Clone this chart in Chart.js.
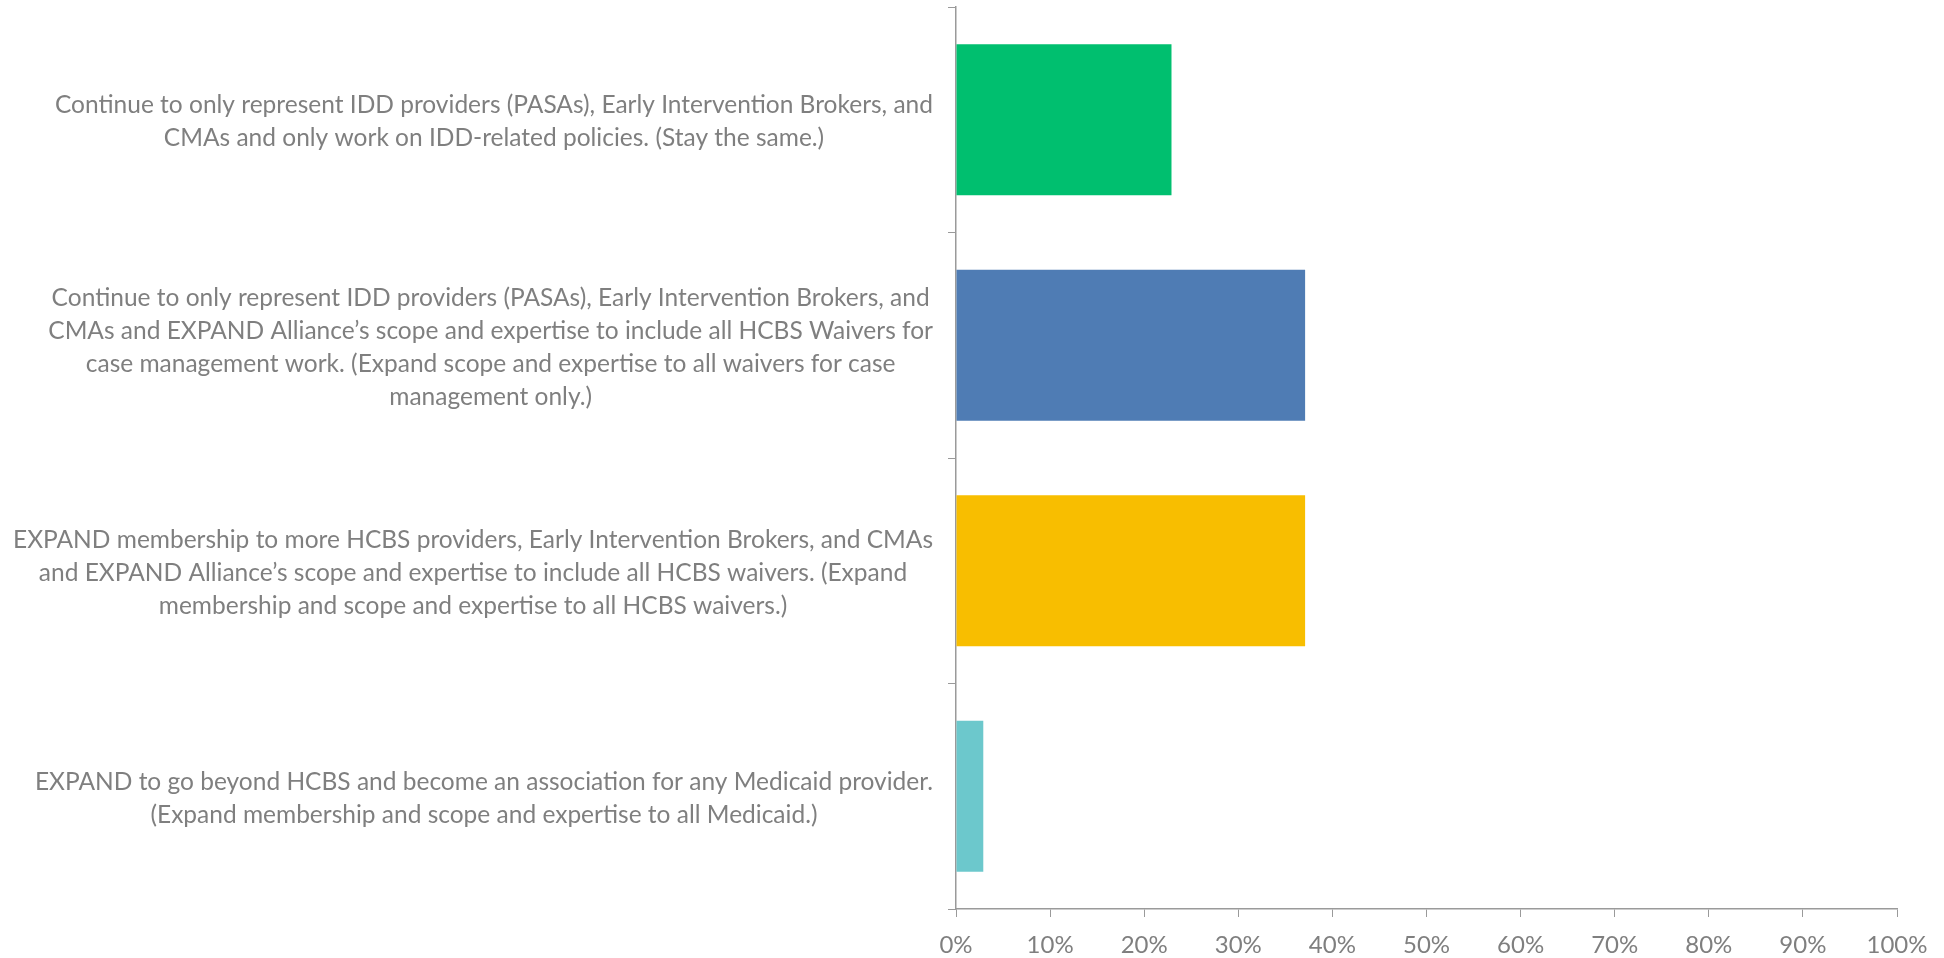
<!DOCTYPE html>
<html>
<head>
<meta charset="utf-8">
<script src="https://cdn.jsdelivr.net/npm/chart.js@4.4.1/dist/chart.umd.min.js"></script>
<style>
  html, body { margin: 0; padding: 0; background: #fff; }
  #wrap { width: 1944px; height: 958px; }
</style>
</head>
<body>
<div id="wrap"><canvas id="optionsChart" width="1944" height="958"></canvas></div>
<script>
// category labels, already broken into lines like the original
const categories = [
    ['Continue to only represent IDD providers (PASAs), Early Intervention Brokers, and',
     'CMAs and only work on IDD-related policies. (Stay the same.)'],
    ['Continue to only represent IDD providers (PASAs), Early Intervention Brokers, and',
     'CMAs and EXPAND Alliance\u2019s scope and expertise to include all HCBS Waivers for',
     'case management work. (Expand scope and expertise to all waivers for case',
     'management only.)'],
    ['EXPAND membership to more HCBS providers, Early Intervention Brokers, and CMAs',
     'and EXPAND Alliance\u2019s scope and expertise to include all HCBS waivers. (Expand',
     'membership and scope and expertise to all HCBS waivers.)'],
    ['EXPAND to go beyond HCBS and become an association for any Medicaid provider.',
     '(Expand membership and scope and expertise to all Medicaid.)']
];
const shares = [22.9, 37.1, 37.1, 2.9];
const barColors = ['#00BF6F', '#4F7CB4', '#F8BE00', '#6CC8CC'];
const xTicks = [0, 10, 20, 30, 40, 50, 60, 70, 80, 90, 100];

const textGray = '#7f7f7f';
const axisGray = '#9a9a9a';
const labelFont = '24.5px Lato';
const lineHeight = 33;

// y labels: each block centred on itself, blocks right-aligned next to the axis
const blockLabels = {
    id: 'blockLabels',
    afterDraw(chart) {
        const scale = chart.scales.y;
        const ctx = chart.ctx;
        const right = scale.right - 23;
        ctx.save();
        ctx.font = labelFont;
        ctx.fillStyle = textGray;
        ctx.textAlign = 'center';
        ctx.textBaseline = 'middle';
        categories.forEach((lines, i) => {
            const yc = scale.getPixelForTick(i) + 2;
            const w = Math.max(...lines.map(l => ctx.measureText(l).width));
            const cx = right - w / 2;
            const y0 = yc - (lines.length - 1) * lineHeight / 2;
            lines.forEach((l, j) => ctx.fillText(l, cx, y0 + j * lineHeight));
        });
        ctx.restore();
    }
};

new Chart(document.getElementById('optionsChart'), {
    type: 'bar',
    data: {
        labels: categories,
        datasets: [{
            data: shares,
            backgroundColor: barColors,
            borderWidth: 0,
            barPercentage: 0.67,
            categoryPercentage: 1
        }]
    },
    options: {
        indexAxis: 'y',
        responsive: false,
        animation: false,
        layout: { padding: { top: 7, right: 47, bottom: 0, left: 0 } },
        plugins: {
            legend: { display: false },
            tooltip: { enabled: false }
        },
        scales: {
            x: {
                min: 0,
                max: 100,
                afterBuildTicks: axis => { axis.ticks = xTicks.map(v => ({ value: v })); },
                afterFit: axis => { axis.height = 49; },
                ticks: {
                    color: textGray,
                    font: { family: 'Lato', size: 24 },
                    padding: 14,
                    maxRotation: 0,
                    callback: v => v + '%'
                },
                grid: {
                    drawOnChartArea: false,
                    drawTicks: true,
                    tickLength: 8,
                    color: axisGray
                },
                border: { display: true, color: axisGray, width: 1.5 }
            },
            y: {
                afterFit: axis => { axis.width = 956; },
                ticks: { display: false },
                grid: {
                    drawOnChartArea: false,
                    drawTicks: true,
                    tickLength: 8,
                    color: axisGray
                },
                border: { display: true, color: axisGray, width: 1.5 }
            }
        }
    },
    plugins: [blockLabels]
});
</script>
</body>
</html>
